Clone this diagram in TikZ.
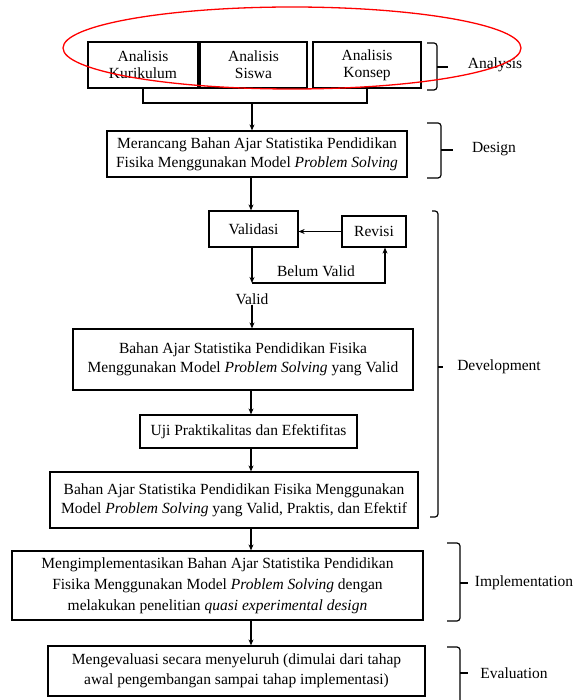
\documentclass[tikz,border=0pt]{standalone}
\usepackage{fontspec}
\setmainfont{Liberation Serif}
\usetikzlibrary{arrows.meta}
\tikzstyle{flow}=[
  >={Stealth[length=6pt,width=5pt]}, x=1pt, y=-1pt, font=\fontsize{15.5}{19}\selectfont
]
\tikzstyle{box}=[
  draw, line width=1.2pt, align=center, inner sep=2pt, fill=white
]
\tikzstyle{arr}=[
  ->, line width=1.2pt
]
\tikzstyle{line}=[
  line width=1.2pt
]
\tikzstyle{brace}=[
  line width=1.2pt, rounded corners=3pt
]
\tikzstyle{lbl}=[
  inner sep=0pt
]

\begin{document}
\begin{tikzpicture}[flow]
  \useasboundingbox (0,0) rectangle (573,700);
  \coordinate (spine) at (251,0);
  % analysis
  \node (ak) at (143,65) [box, minimum width=110pt, minimum height=46pt, font=\fontsize{15.5}{17}\selectfont] {Analisis\\Kurikulum};
  \node (as) at (253.5,65) [box, minimum width=107pt, minimum height=46pt, font=\fontsize{15.5}{17}\selectfont] {Analisis\\Siswa};
  \node (ac) at (367,65) [box, minimum width=108pt, minimum height=46pt, font=\fontsize{15.5}{17}\selectfont] {Analisis\\Konsep};
  \coordinate (join) at (252,103);
  % design
  \node (design) at (257,154) [box, minimum width=300pt, minimum height=46pt] {Merancang Bahan Ajar Statistika Pendidikan\\Fisika Menggunakan Model \textit{Problem Solving}};
  % development
  \node (validasi) at (253.5,229) [box, minimum width=89pt, minimum height=36pt] {Validasi};
  \node (revisi) at (374,231.5) [box, minimum width=64pt, minimum height=31pt] {Revisi};
  \coordinate (turn) at (252,283);
  \node (belum) at (316,271) [lbl] {Belum Valid};
  \node (validlbl) at (252,299) [lbl] {Valid};
  \node (bav) at (243,359.5) [box, minimum width=340pt, minimum height=61pt] {Bahan Ajar Statistika Pendidikan Fisika\\Menggunakan Model \textit{Problem Solving} yang Valid};
  \node (uji) at (248.5,431.5) [box, minimum width=217pt, minimum height=33pt] {Uji Praktikalitas dan Efektifitas};
  \node (bave) at (234,500) [box, minimum width=368pt, minimum height=56pt] {Bahan Ajar Statistika Pendidikan Fisika Menggunakan\\Model \textit{Problem Solving} yang Valid, Praktis, dan Efektif};
  % implementation, evaluation
  \node (impl) at (217.5,585.5) [box, minimum width=411pt, minimum height=69pt, font=\fontsize{15.5}{21}\selectfont] {Mengimplementasikan Bahan Ajar Statistika Pendidikan\\Fisika Menggunakan Model \textit{Problem Solving} dengan\\melakukan penelitian \textit{quasi experimental design}};
  \node (eval) at (236.5,671) [box, minimum width=377pt, minimum height=50pt, font=\fontsize{15.5}{20}\selectfont] {Mengevaluasi secara menyeluruh (dimulai dari tahap\\awal pengembangan sampai tahap implementasi)};

  \draw [line] (ak.south) |- (join) -| (ac.south);
  \draw [arr] (join) -- (design.north -| join);
  \draw [arr] (design.south -| spine) -- (validasi.north -| spine);
  \draw [arr] (revisi.west) -- (validasi.east |- revisi.west);
  \draw [arr] (validasi.south -| turn) -- (turn);
  \draw [arr] (turn) -| ([xshift=11pt]revisi.south);
  \draw [arr] (validlbl.south) -- (validlbl.south |- bav.north);
  \draw [arr] (bav.south -| spine) -- (uji.north -| spine);
  \draw [arr] (uji.south -| spine) -- (bave.north -| spine);
  \draw [arr] (bave.south -| spine) -- (impl.north -| spine);
  \draw [arr] (impl.south -| spine) -- (eval.north -| spine);

  % phase brackets
  \draw [brace] (427,43) -- (437,43) -- (437,90) -- (427,90);
  \draw [line] (437,67) -- (448,67);
  \node (analysis) at (495,65) [lbl] {Analysis};
  \draw [brace] (427,123) -- (441,123) -- (441,178) -- (427,178);
  \draw [line] (441,150) -- (453,150);
  \node (designlbl) at (494,149) [lbl] {Design};
  \draw [brace] (432,211) -- (438,211) -- (438,517) -- (430,517);
  \draw [line] (438,367) -- (443,367);
  \node (development) at (499,367) [lbl] {Development};
  \draw [brace] (447,543) -- (460,543) -- (460,621) -- (447,621);
  \draw [line] (460,583) -- (468,583);
  \node (implementation) at (524,583) [lbl] {Implementation};
  \draw [brace] (447,647) -- (460,647) -- (460,706) -- (447,706);
  \draw [line] (460,673) -- (468,673);
  \node (evaluation) at (514,673) [lbl] {Evaluation};

  \draw [red, line width=1.3pt] (292,48) ellipse [x radius=229pt, y radius=41pt];
\end{tikzpicture}
\end{document}
